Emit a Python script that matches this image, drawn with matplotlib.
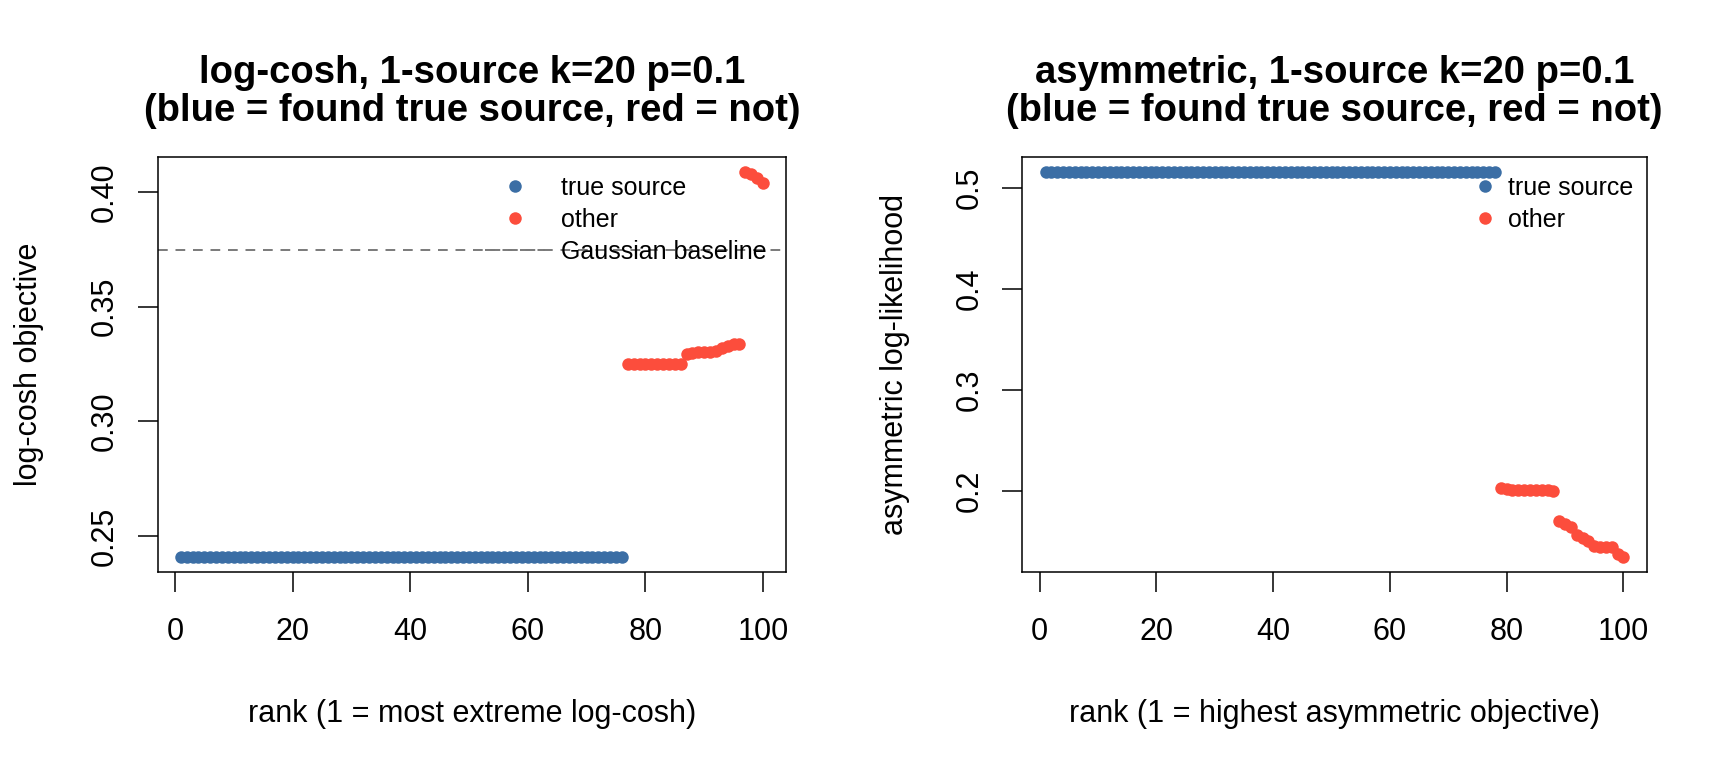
import matplotlib
matplotlib.use("Agg")
import matplotlib.pyplot as plt

plt.rcParams['font.family'] = ['Liberation Sans', 'DejaVu Sans']

# rank 1..100 on both panels
rank = list(range(1, 101))

# log-cosh objective by rank (first 76 found the true source)
logcosh_n_true = 76
logcosh_vals = [
    0.241, 0.241, 0.241, 0.241, 0.241, 0.241, 0.241, 0.241, 0.241, 0.241,
    0.241, 0.241, 0.241, 0.241, 0.241, 0.241, 0.241, 0.241, 0.241, 0.241,
    0.241, 0.241, 0.241, 0.241, 0.241, 0.241, 0.241, 0.241, 0.241, 0.241,
    0.241, 0.241, 0.241, 0.241, 0.241, 0.241, 0.241, 0.241, 0.241, 0.241,
    0.241, 0.241, 0.241, 0.241, 0.241, 0.241, 0.241, 0.241, 0.241, 0.241,
    0.241, 0.241, 0.241, 0.241, 0.241, 0.241, 0.241, 0.241, 0.241, 0.241,
    0.241, 0.241, 0.241, 0.241, 0.241, 0.241, 0.241, 0.241, 0.241, 0.241,
    0.241, 0.241, 0.241, 0.241, 0.241, 0.241, 0.325, 0.325, 0.325, 0.325,
    0.325, 0.325, 0.325, 0.325, 0.325, 0.325, 0.3295, 0.3298, 0.3300, 0.3300,
    0.3302, 0.3305, 0.3320, 0.3330, 0.3335, 0.3335, 0.4085, 0.4078, 0.4060, 0.4040,
]
gaussian_baseline = 0.3746

# asymmetric log-likelihood by rank (first 78 found the true source)
asym_n_true = 78
asym_vals = [
    0.515, 0.515, 0.515, 0.515, 0.515, 0.515, 0.515, 0.515, 0.515, 0.515,
    0.515, 0.515, 0.515, 0.515, 0.515, 0.515, 0.515, 0.515, 0.515, 0.515,
    0.515, 0.515, 0.515, 0.515, 0.515, 0.515, 0.515, 0.515, 0.515, 0.515,
    0.515, 0.515, 0.515, 0.515, 0.515, 0.515, 0.515, 0.515, 0.515, 0.515,
    0.515, 0.515, 0.515, 0.515, 0.515, 0.515, 0.515, 0.515, 0.515, 0.515,
    0.515, 0.515, 0.515, 0.515, 0.515, 0.515, 0.515, 0.515, 0.515, 0.515,
    0.515, 0.515, 0.515, 0.515, 0.515, 0.515, 0.515, 0.515, 0.515, 0.515,
    0.515, 0.515, 0.515, 0.515, 0.515, 0.515, 0.515, 0.515, 0.2025, 0.2015,
    0.2010, 0.2008, 0.2007, 0.2006, 0.2005, 0.2005, 0.2004, 0.2003, 0.1703, 0.1677,
    0.1640, 0.1560, 0.1535, 0.1505, 0.1460, 0.1450, 0.1450, 0.1448, 0.1380, 0.1350,
]

xticks = [0, 20, 40, 60, 80, 100]
logcosh_yticks = [0.25, 0.30, 0.35, 0.40]
asym_yticks = [0.2, 0.3, 0.4, 0.5]

BLUE = '#3B6EA5'
RED = '#FC4D3C'
W, H = 1728, 768


def rlim(v):
    # R style 4% padding
    lo, hi = min(v), max(v)
    r = hi - lo
    return lo - 0.04 * r, hi + 0.04 * r


def panel(rect, vals, n_true, yticks, yfmt, title, xlabel, ylabel):
    ax = fig.add_axes(rect)
    h1, = ax.plot(rank[:n_true], vals[:n_true], 'o', color=BLUE, ms=9, mew=0,
                  label='true source')
    h2, = ax.plot(rank[n_true:], vals[n_true:], 'o', color=RED, ms=9, mew=0,
                  label='other')
    ax.set_xlim(rlim(rank))
    ax.set_ylim(rlim(vals))
    ax.set_xticks(xticks)
    ax.set_yticks(yticks)
    ax.set_yticklabels([yfmt % t for t in yticks])
    ax.tick_params(length=14.4, width=1.1, labelsize=22, direction='out')
    ax.tick_params(axis='x', pad=18)
    ax.tick_params(axis='y', pad=13, labelrotation=90)
    for lbl in ax.get_yticklabels():
        lbl.set_va('center')
    for s in ax.spines.values():
        s.set_linewidth(1.1)
    ax.set_title(title, fontsize=27.5, fontweight='bold', pad=20,
                 linespacing=1.07, va='bottom')
    ax.set_xlabel(xlabel, fontsize=22)
    ax.set_ylabel(ylabel, fontsize=22)
    ax.xaxis.set_label_coords(0.5, -0.306)
    ax.yaxis.set_label_coords(-0.180, 0.5)
    return ax, [h1, h2]


fig = plt.figure(figsize=(W / 100, H / 100), dpi=100)

ax1, hs = panel([157.5 / W, 1 - 572 / H, (786.3 - 157.5) / W, (572 - 157) / H],
                logcosh_vals, logcosh_n_true, logcosh_yticks, '%.2f',
                'log-cosh, 1-source k=20 p=0.1\n(blue = found true source, red = not)',
                'rank (1 = most extreme log-cosh)', 'log-cosh objective')
hb = ax1.axhline(gaussian_baseline, color='#7A7A7A', lw=1.4, dashes=(5, 4),
                 label='Gaussian baseline')
ax1.legend(handles=hs + [hb], loc='upper left', bbox_to_anchor=(0.521, 0.955),
           borderaxespad=0, borderpad=0, frameon=False, fontsize=18,
           handlelength=2.4, handletextpad=0.64, labelspacing=0.32, numpoints=1)

ax2, hs = panel([1022.4 / W, 1 - 572 / H, (1646.5 - 1022.4) / W, (572 - 157) / H],
                asym_vals, asym_n_true, asym_yticks, '%.1f',
                'asymmetric, 1-source k=20 p=0.1\n(blue = found true source, red = not)',
                'rank (1 = highest asymmetric objective)', 'asymmetric log-likelihood')
ax2.legend(handles=hs, loc='upper left', bbox_to_anchor=(0.721, 0.955),
           borderaxespad=0, borderpad=0, frameon=False, fontsize=18,
           handlelength=1.0, handletextpad=0.44, labelspacing=0.32, numpoints=1)

fig.savefig('out.png', dpi=100)
